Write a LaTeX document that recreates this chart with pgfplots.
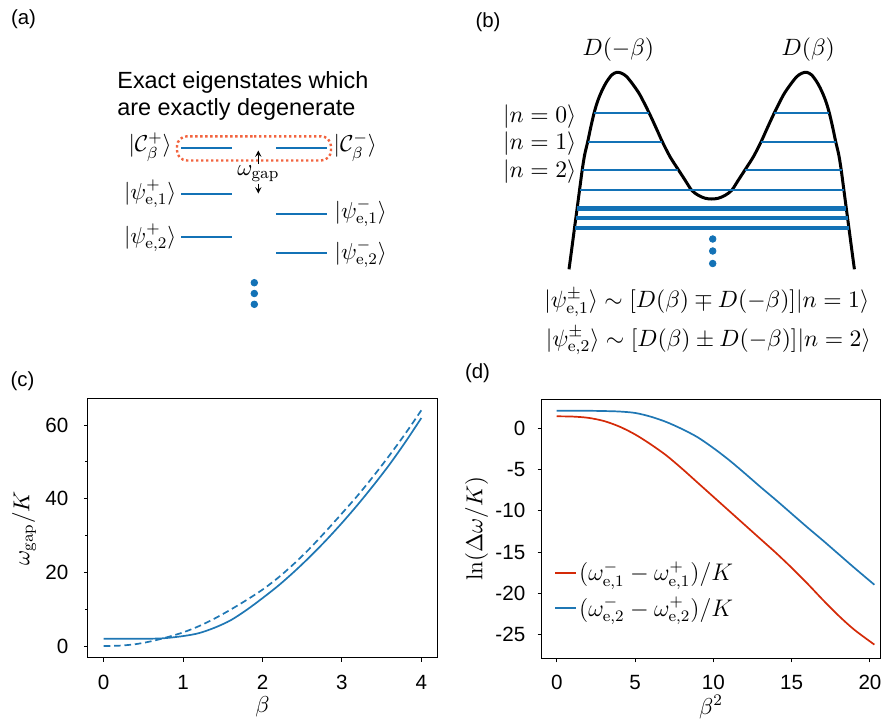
\RequirePackage{fix-cm}
\documentclass[border=0pt]{standalone}
\usepackage[no-math]{fontspec}
\setmainfont{Liberation Sans}
\usepackage{pgfplots}
\pgfplotsset{compat=1.18}
\definecolor{mplblue}{HTML}{1F77B4}
\definecolor{lvlblue}{HTML}{1372B6}
\definecolor{dotred}{HTML}{F2643F}
\definecolor{mplred}{HTML}{D42A08}
\newcommand\panelfont{\fontsize{10.2}{12}\selectfont}
\newcommand\mf{\fontsize{11.5}{13.8}\selectfont}
\newcommand\bfs{\fontsize{11.8}{14}\selectfont}

\pgfplotstableread{
x y
0.00 1.95
0.25 1.95
0.50 1.97
0.75 2.10
1.00 2.70
1.20 3.50
1.40 5.00
1.60 7.00
1.80 9.80
2.00 13.0
2.20 16.4
2.40 20.2
2.60 24.3
2.80 28.7
3.00 33.4
3.20 38.4
3.40 43.7
3.60 49.3
3.80 55.4
4.00 61.9
}\gapsolid
\pgfplotstableread{
x y
0.00 0.00
0.20 0.10
0.40 0.50
0.60 1.30
0.80 2.40
1.00 3.70
1.20 5.40
1.40 7.50
1.60 9.90
1.80 12.5
2.00 15.3
2.20 18.6
2.40 22.4
2.60 26.6
2.80 31.2
3.00 36.0
3.20 40.9
3.40 46.2
3.60 51.8
3.80 57.7
4.00 64.0
}\gapdashed
\pgfplotstableread{
x y
0 1.44
1 1.41
2 1.26
3 0.88
4 0.20
5 -0.75
6 -1.95
7 -3.30
8 -4.90
9 -6.60
10 -8.30
11 -10.0
12 -11.7
13 -13.4
14 -15.1
15 -16.9
16 -18.8
17 -20.8
18 -22.7
19 -24.4
20.28 -26.2
}\dred
\pgfplotstableread{
x y
0 2.12
1 2.12
2 2.11
3 2.08
4 2.02
5 1.85
6 1.40
7 0.75
8 -0.10
9 -1.10
10 -2.40
11 -3.85
12 -5.45
13 -7.10
14 -8.70
15 -10.35
16 -12.0
17 -13.6
18 -15.25
19 -16.9
20.28 -18.95
}\dblue

\pgfplotsset{
  panelaxis/.style={
    scale only axis,
    tick align=outside,
    xtick pos=left, ytick pos=left,
    axis line style={line width=0.6pt},
    every tick/.style={black, line width=0.5pt},
    major tick length=2pt, minor tick length=1.2pt,
    tick label style={font=\fontsize{10.3}{12}\selectfont},
    /pgf/number format/assume math mode=true,
    label style={font=\mf},
    xlabel style={at={(axis description cs:0.5,0)}, anchor=center, yshift=-24.4pt},
    xticklabel style={yshift=-3pt},
  }
}

\begin{document}
\begin{tikzpicture}
\useasboundingbox (0,0) rectangle (440.5pt,359.5pt);
% ---------- canvas for panels (a) and (b) ----------
\begin{axis}[name=canvas, at={(0pt,0pt)}, anchor=south west, scale only axis,
  width=440.5pt, height=359.5pt, xmin=0, xmax=881, ymin=0, ymax=719,
  y dir=reverse, hide axis, clip=false]
% (a) levels
\addplot[lvlblue, line width=1.15pt] coordinates {(181,147.7) (232,147.7)};
\addplot[lvlblue, line width=1.15pt] coordinates {(276,147.7) (326.7,147.7)};
\addplot[lvlblue, line width=1.15pt] coordinates {(181,194.3) (232,194.3)};
\addplot[lvlblue, line width=1.15pt] coordinates {(181,237.3) (232,237.3)};
\addplot[lvlblue, line width=1.15pt] coordinates {(276,214.3) (326.7,214.3)};
\addplot[lvlblue, line width=1.15pt] coordinates {(276,253.3) (326.7,253.3)};
\addplot[dotred, line width=1.2pt, dash pattern=on 1.2pt off 1.3pt, rounded corners=5pt]
  coordinates {(254,136.3) (331,136.3) (331,160.5) (177,160.5) (177,136.3) (254,136.3)};
\addplot[black, line width=0.4pt, -stealth] coordinates {(258.3,165) (258.3,150.5)};
\addplot[black, line width=0.4pt, -stealth] coordinates {(258.3,183.5) (258.3,193.5)};
\addplot[only marks, mark=*, mark size=1.65pt, lvlblue] coordinates {(254.3,282.7) (254.3,293.5) (254.3,304.3)};
\node[font=\panelfont] at (23.5,19.5) {(a)};
\node[font=\fontsize{11.7}{14}\selectfont, anchor=base west, inner sep=0pt] at (117,88) {Exact eigenstates which};
\node[font=\fontsize{11.7}{14}\selectfont, anchor=base west, inner sep=0pt] at (117,115) {are exactly degenerate};
\node[font=\mf, anchor=east, inner sep=0pt] at (172,147) {$|\mathcal{C}_\beta^+\rangle$};
\node[font=\mf, anchor=west, inner sep=0pt] at (333.3,147) {$|\mathcal{C}_\beta^-\rangle$};
\node[font=\mf, anchor=east, inner sep=0pt] at (176.7,194) {$|\psi^+_{\mathrm{e},1}\rangle$};
\node[font=\mf, anchor=east, inner sep=0pt] at (176.7,238) {$|\psi^+_{\mathrm{e},2}\rangle$};
\node[font=\mf, anchor=west, inner sep=0pt] at (334.3,213) {$|\psi^-_{\mathrm{e},1}\rangle$};
\node[font=\mf, anchor=west, inner sep=0pt] at (334.3,254) {$|\psi^-_{\mathrm{e},2}\rangle$};
\node[font=\mf, fill=white, inner sep=0.5pt] at (258.3,173.5) {$\omega_{\mathrm{gap}}$};
% (b) double well
\addplot[black, line width=1.5pt, smooth] coordinates {
(569.0,269.3) (571.6,250) (574.5,228) (577.1,208.5) (579.5,190.3) (582.2,170)
(584.6,155) (587.7,141.7) (590.8,127) (594,113.3) (597,103) (600,95) (603.3,87.8)
(606.7,81.7) (611.7,75) (616.7,72.3)
(621.7,73.3) (626.7,76.7) (633.3,85.0) (640.0,95.0)
(649.3,113.3) (656.7,129.3) (662.3,141.7) (670.0,156.7) (678.3,169.7) (685.0,180.0)
(691.7,190.3) (698.3,195.3) (705.0,198.2) (711.7,199.0)
(718.4,198.2) (725.1,195.3) (731.7,190.3) (738.4,180.0) (745.1,169.7) (753.4,156.7)
(761.1,141.7) (766.7,129.3) (774.1,113.3) (783.4,95.0) (790.1,85.0) (796.7,76.7)
(801.7,73.3) (806.7,72.3)
(811.7,75) (816.7,81.7) (820.1,87.8) (823.4,95) (826.4,103) (829.4,113.3)
(832.6,127) (835.7,141.7) (838.8,155) (841.2,170) (843.9,190.3) (846.3,208.5)
(848.9,228) (851.8,250) (854.4,269.3)};
\addplot[lvlblue, line width=1pt] coordinates {(594,113.3) (649.3,113.3)};
\addplot[lvlblue, line width=1pt] coordinates {(774.1,113.3) (829.4,113.3)};
\addplot[lvlblue, line width=1pt] coordinates {(587.7,141.7) (662.3,141.7)};
\addplot[lvlblue, line width=1pt] coordinates {(761.1,141.7) (835.7,141.7)};
\addplot[lvlblue, line width=1pt] coordinates {(581.9,169.7) (678.3,169.7)};
\addplot[lvlblue, line width=1pt] coordinates {(745.1,169.7) (841.5,169.7)};
\addplot[lvlblue, line width=1pt] coordinates {(579.5,190.3) (843.9,190.3)};
\addplot[lvlblue, line width=2.1pt] coordinates {(577.1,208.5) (846.3,208.5)};
\addplot[lvlblue, line width=2.1pt] coordinates {(575.8,218.2) (847.6,218.2)};
\addplot[lvlblue, line width=2.1pt] coordinates {(574.6,227.8) (848.8,227.8)};
\addplot[only marks, mark=*, mark size=1.65pt, lvlblue] coordinates {(712.7,239) (712.7,251) (712.7,263.5)};
\node[font=\panelfont] at (488,22) {(b)};
\node[font=\bfs] at (618.3,50) {$D(-\beta)$};
\node[font=\bfs] at (808.3,50) {$D(\beta)$};
\node[font=\bfs, anchor=east, inner sep=0pt] at (576.7,116.7) {$|n=0\rangle$};
\node[font=\bfs, anchor=east, inner sep=0pt] at (576.7,144) {$|n=1\rangle$};
\node[font=\bfs, anchor=east, inner sep=0pt] at (576.7,172) {$|n=2\rangle$};
\node[font=\bfs, anchor=west, inner sep=0pt] at (544,302.5) {$|\psi^\pm_{\mathrm{e},1}\rangle\sim[D(\beta)\mp D(-\beta)]|n=1\rangle$};
\node[font=\bfs, anchor=west, inner sep=0pt] at (545.5,340.8) {$|\psi^\pm_{\mathrm{e},2}\rangle\sim[D(\beta)\pm D(-\beta)]|n=2\rangle$};
\node[font=\panelfont] at (22.5,381) {(c)};
\node[font=\panelfont] at (477.5,373) {(d)};
\end{axis}
% ---------- panel (c) ----------
\begin{axis}[panelaxis, at={(43.9pt,30.6pt)}, anchor=south west,
  width=174.7pt, height=129.65pt,
  xmin=-0.2, xmax=4.2, ymin=-3.2, ymax=67.2,
  xtick={0,1,2,3,4}, ytick={0,20,40,60}, minor ytick={10,30,50},
  yticklabel style={xshift=-4.2pt},
  xlabel={$\beta$}, ylabel={$\omega_{\mathrm{gap}}/K$},
  ylabel style={at={(axis description cs:0,0.5)}, anchor=center, yshift=31.9pt}]
\addplot[mplblue, line width=0.85pt, smooth] table {\gapsolid};
\addplot[mplblue, line width=0.85pt, smooth, dash pattern=on 3.3pt off 1.9pt] table {\gapdashed};
\end{axis}
% ---------- panel (d) ----------
\begin{axis}[panelaxis, at={(270.85pt,30.35pt)}, anchor=south west,
  width=169.3pt, height=129.5pt,
  xmin=-0.96, xmax=20.66, ymin=-27.86, ymax=3.5,
  xtick={0,5,10,15,20}, ytick={-25,-20,-15,-10,-5,0},
  yticklabels={-25,-20,-15,-10,-5,0},
  yticklabel style={xshift=-2.7pt},
  xlabel={$\beta^2$}, ylabel={$\ln(\Delta\omega/K)$},
  ylabel style={at={(axis description cs:0,0.5)}, anchor=center, yshift=32.5pt},
  legend style={at={(0.035,0.262)}, anchor=west, draw=none, fill=none,
    inner sep=0pt, row sep=4.5pt, font=\fontsize{12}{14}\selectfont,
    nodes={inner sep=1pt}},
  legend cell align=left,
  legend image code/.code={\draw[#1, line width=1.1pt] (0pt,0pt) -- (10.5pt,0pt);}]
\addplot[mplred, line width=0.85pt, smooth] table {\dred};
\addlegendentry{$(\omega^-_{\mathrm{e},1}-\omega^+_{\mathrm{e},1})/K$}
\addplot[mplblue, line width=0.85pt, smooth] table {\dblue};
\addlegendentry{$(\omega^-_{\mathrm{e},2}-\omega^+_{\mathrm{e},2})/K$}
\end{axis}
\end{tikzpicture}
\end{document}
